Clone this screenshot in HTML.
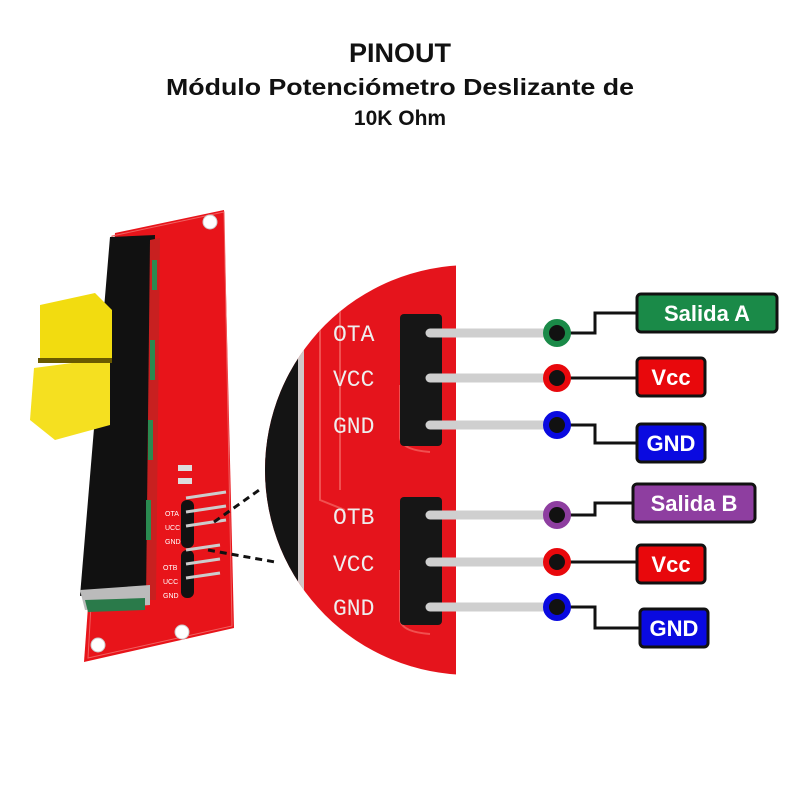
<!DOCTYPE html>
<html><head><meta charset="utf-8"><style>
html,body{margin:0;padding:0;background:#fff;}
svg{display:block;font-family:"Liberation Sans",sans-serif;}
</style></head><body>
<svg width="800" height="800" viewBox="0 0 800 800">
<rect width="800" height="800" fill="#fff"/>
<text x="400" y="62" text-anchor="middle" font-size="27" font-weight="bold" fill="#111">PINOUT</text>
<text x="400" y="95" text-anchor="middle" font-size="23" font-weight="bold" fill="#111" textLength="468" lengthAdjust="spacingAndGlyphs">Módulo Potenciómetro Deslizante de</text>
<text x="400" y="125" text-anchor="middle" font-size="21" font-weight="bold" fill="#111">10K Ohm</text>

<!-- small board -->
<polygon points="115,233 224,210 234,628 84,662" fill="#e8141a"/>
<polygon points="112,236 224,212 232,626 88,658" fill="none" stroke="#f06060" stroke-width="1"/>
<circle cx="210" cy="222" r="7" fill="#fff" stroke="#ccc"/>
<circle cx="182" cy="632" r="7" fill="#fff" stroke="#ccc"/>
<circle cx="98" cy="645" r="7" fill="#fff" stroke="#ccc"/>
<polygon points="110,237 155,235 150,585 80,596" fill="#111"/>
<polygon points="150,240 160,238 156,600 146,600" fill="#c82020"/>
<rect x="152" y="260" width="5" height="30" fill="#2a8a50"/>
<rect x="150" y="340" width="5" height="40" fill="#2a8a50"/>
<rect x="148" y="420" width="5" height="40" fill="#2a8a50"/>
<rect x="146" y="500" width="5" height="40" fill="#2a8a50"/>
<polygon points="80,590 150,585 150,605 85,610" fill="#bbb"/>
<polygon points="85,600 145,598 145,610 88,612" fill="#2a7a4a"/>
<!-- knob -->
<polygon points="40,305 95,293 112,310 112,360 40,362" fill="#f2dc10"/>
<polygon points="34,368 110,358 110,425 55,440 30,420" fill="#f5e020"/>
<rect x="38" y="358" width="74" height="5" fill="#6a5a00"/>
<!-- small header -->
<rect x="178" y="465" width="14" height="6" fill="#ddd"/>
<rect x="178" y="478" width="14" height="6" fill="#ddd"/>
<rect x="181" y="500" width="13" height="48" rx="6" fill="#111"/>
<rect x="181" y="550" width="13" height="48" rx="6" fill="#111"/>
<g stroke="#ccc" stroke-width="3">
<line x1="186" y1="498" x2="226" y2="492"/><line x1="186" y1="512" x2="226" y2="506"/><line x1="186" y1="526" x2="226" y2="520"/>
<line x1="186" y1="550" x2="220" y2="545"/><line x1="186" y1="564" x2="220" y2="559"/><line x1="186" y1="578" x2="220" y2="573"/>
</g>
<g font-size="7" fill="#fff"><text x="165" y="516">OTA</text><text x="165" y="530">UCC</text><text x="165" y="544">GND</text>
<text x="163" y="570">OTB</text><text x="163" y="584">UCC</text><text x="163" y="598">GND</text></g>
<g stroke="#111" stroke-width="3" stroke-dasharray="7,5" fill="none">
<line x1="214" y1="522" x2="262" y2="488"/>
<line x1="208" y1="550" x2="275" y2="562"/>
</g>

<!-- zoom circle -->
<defs><clipPath id="c"><circle cx="470" cy="470" r="205"/></clipPath></defs>
<g clip-path="url(#c)">
<rect x="260" y="260" width="196" height="420" fill="#e5141c"/>
<path d="M260,330 Q285,320 298,330 L298,620 Q285,640 260,640 Z" fill="#141414"/>
<rect x="298" y="300" width="6" height="360" fill="#d0c8c8"/>
<g fill="none" stroke="#f05050" stroke-width="2">
<path d="M320,280 V500 L345,510"/><path d="M340,275 V490"/>
<path d="M400,385 V438 Q402,450 430,452"/><path d="M400,570 V620 Q402,632 430,634"/>
</g>
<rect x="400" y="314" width="42" height="132" rx="4" fill="#161616"/>
<rect x="400" y="497" width="42" height="128" rx="4" fill="#161616"/>
<g fill="#eee" font-size="23" font-family="Liberation Mono,monospace">
<text x="333" y="341">OTA</text><text x="333" y="386">VCC</text><text x="333" y="433">GND</text>
<text x="333" y="524">OTB</text><text x="333" y="571">VCC</text><text x="333" y="615">GND</text>
</g>
</g>
<g stroke="#cfcfcf" stroke-width="9" stroke-linecap="round">
<line x1="430" y1="333" x2="545" y2="333"/><line x1="430" y1="378" x2="545" y2="378"/><line x1="430" y1="425" x2="545" y2="425"/>
<line x1="430" y1="515" x2="545" y2="515"/><line x1="430" y1="562" x2="545" y2="562"/><line x1="430" y1="607" x2="545" y2="607"/>
</g>
<!-- connectors -->
<g stroke="#111" stroke-width="3" fill="none">
<polyline points="557,333 595,333 595,313 637,313"/>
<polyline points="557,378 637,378"/>
<polyline points="557,425 595,425 595,443 637,443"/>
<polyline points="557,515 595,515 595,503 633,503"/>
<polyline points="557,562 637,562"/>
<polyline points="557,607 595,607 595,628 640,628"/>
</g>
<g stroke-width="6">
<circle cx="557" cy="333" r="11" fill="#111" stroke="#1a8a48"/>
<circle cx="557" cy="378" r="11" fill="#111" stroke="#e8080c"/>
<circle cx="557" cy="425" r="11" fill="#111" stroke="#0a0ae0"/>
<circle cx="557" cy="515" r="11" fill="#111" stroke="#8e3ea0"/>
<circle cx="557" cy="562" r="11" fill="#111" stroke="#e8080c"/>
<circle cx="557" cy="607" r="11" fill="#111" stroke="#0a0ae0"/>
</g>
<g stroke="#111" stroke-width="3">
<rect x="637" y="294" width="140" height="38" rx="4" fill="#1a8a48"/>
<rect x="637" y="358" width="68" height="38" rx="4" fill="#e8080c"/>
<rect x="637" y="424" width="68" height="38" rx="4" fill="#0a0ae0"/>
<rect x="633" y="484" width="122" height="38" rx="4" fill="#8e3ea0"/>
<rect x="637" y="545" width="68" height="38" rx="4" fill="#e8080c"/>
<rect x="640" y="609" width="68" height="38" rx="4" fill="#0a0ae0"/>
</g>
<g fill="#fff" font-size="22" font-weight="bold" text-anchor="middle">
<text x="707" y="321">Salida A</text>
<text x="671" y="385">Vcc</text>
<text x="671" y="451">GND</text>
<text x="694" y="511">Salida B</text>
<text x="671" y="572">Vcc</text>
<text x="674" y="636">GND</text>
</g>
</svg>
</body></html>
